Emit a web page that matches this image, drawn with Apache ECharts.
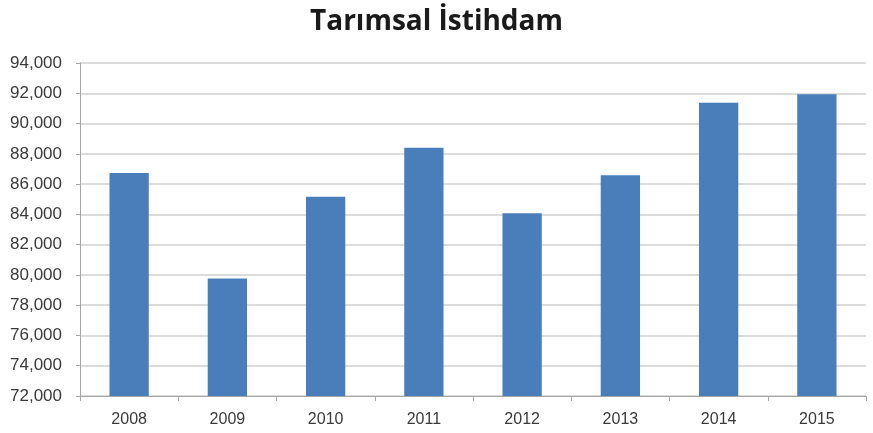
<!DOCTYPE html>
<html>
<head>
<meta charset="utf-8">
<script src="https://cdn.jsdelivr.net/npm/echarts@6/dist/echarts.min.js"></script>
<style>
  html, body { margin: 0; padding: 0; background: #fff; }
  #main { width: 873px; height: 433px; }
</style>
</head>
<body>
<div id="main"></div>
<script>
var years = ['2008', '2009', '2010', '2011', '2012', '2013', '2014', '2015'];
var employment = [86730, 79760, 85160, 88400, 84070, 86590, 91380, 91930];
var yMin = 72000;
var yMax = 94000;
var yStep = 2000;

var option = {
    animation: false,
    backgroundColor: '#ffffff',
    title: {
        text: 'Tarımsal İstihdam',
        left: 'center',
        top: 3,
        textStyle: {
            fontFamily: 'Open Sans',
            fontWeight: 'bold',
            fontSize: 28,
            color: '#1a1a1a'
        }
    },
    grid: {
        left: 80,
        right: 7,
        top: 63,
        bottom: 37
    },
    xAxis: {
        type: 'category',
        data: years,
        axisLine: { lineStyle: { color: '#a6a6a6' } },
        axisTick: { show: true, length: 5, lineStyle: { color: '#a6a6a6' } },
        axisLabel: {
            margin: 16,
            fontFamily: 'Liberation Sans',
            fontSize: 16,
            color: '#3a3a3a'
        }
    },
    yAxis: {
        type: 'value',
        min: yMin,
        max: yMax,
        interval: yStep,
        axisLine: { show: true, lineStyle: { color: '#a6a6a6' } },
        axisTick: { show: true, length: 4, lineStyle: { color: '#a6a6a6' } },
        splitLine: { lineStyle: { color: '#d0d0d0', width: 1.5 } },
        axisLabel: {
            margin: 18,
            fontFamily: 'Liberation Sans',
            fontSize: 17,
            color: '#3a3a3a',
            formatter: function (v) {
                return v.toLocaleString('en-US');
            }
        }
    },
    series: [{
        type: 'bar',
        data: employment,
        barWidth: '40%',
        itemStyle: { color: '#4a7ebb' }
    }]
};

var myChart = echarts.init(document.getElementById('main'));
myChart.setOption(option);
</script>
</body>
</html>
